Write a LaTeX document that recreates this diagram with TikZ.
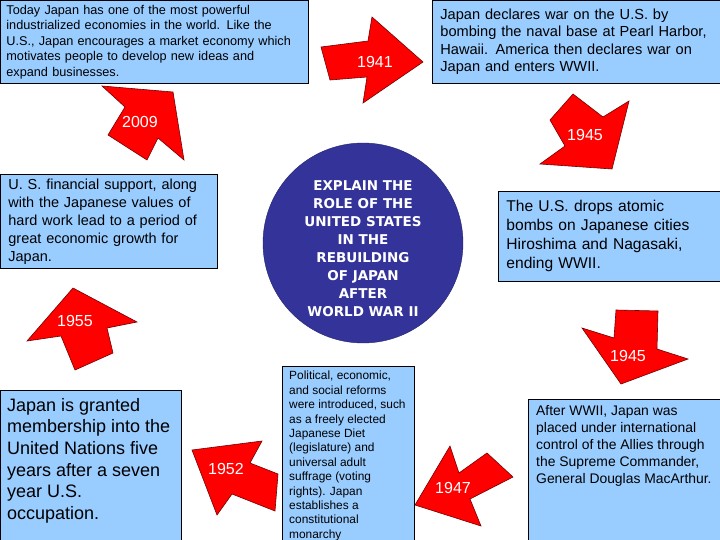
\documentclass[tikz,border=0pt]{standalone}
\usepackage{fontspec}
\setmainfont{Liberation Sans}
\newfontfamily\goalfont{DejaVu Sans}
\definecolor{boxblue}{RGB}{153,204,255}
\definecolor{goalblue}{RGB}{51,51,153}

\begin{document}
\begin{tikzpicture}[x=1pt,y=-1pt]
  \tikzset{infobox/.style = {draw=black,line width=0.8pt,fill=boxblue,anchor=north west,align=left}}
  \tikzset{infotext/.style = {anchor=north west,align=left,inner sep=0pt}}
  \tikzset{yeararrow/.style = {fill=red,draw=black!55!red,line width=0.6pt}}
  \tikzset{year/.style = {text=white,inner sep=0pt,font=\fontsize{16}{18}\selectfont}}

\clip (0,0) rectangle (720,540);
\fill[white] (0,0) rectangle (720,540);

% boxes
\node[infobox,minimum height=83pt,text width=296pt,inner xsep=6pt,
  font=\fontsize{12.7}{15.5}\selectfont] (today) at (0,0)
  {Today Japan has one of the most powerful\\
   industrialized economies in the world.  Like the\\
   U.S., Japan encourages a market economy which\\
   motivates people to develop new ideas and\\
   expand businesses.};
\node[infobox,minimum height=83pt,text width=280pt,inner xsep=8pt,
  font=\fontsize{14.6}{17.5}\selectfont] (pearl) at (432,0)
  {Japan declares war on the U.S. by\\
   bombing the naval base at Pearl Harbor,\\
   Hawaii.  America then declares war on\\
   Japan and enters WWII.};
\node[infobox,minimum height=94pt,text width=201pt,inner xsep=8pt,
  font=\fontsize{14.5}{18}\selectfont] (growth) at (0,174)
  {U. S. financial support, along\\
   with the Japanese values of\\
   hard work lead to a period of\\
   great economic growth for\\
   Japan.};
\node[infobox,minimum height=90pt,text width=214pt,inner xsep=8pt,
  font=\fontsize{15.6}{19}\selectfont] (bombs) at (498,191)
  {The U.S. drops atomic\\
   bombs on Japanese cities\\
   Hiroshima and Nagasaki,\\
   ending WWII.};

\node[infobox,minimum width=181pt,minimum height=150pt] (un) at (0,390) {};
\node[infotext,font=\fontsize{18}{21.6}\selectfont] (untext) at (7,398)
  {Japan is granted\\
   membership into the\\
   United Nations five\\
   years after a seven\\
   year U.S.\\
   occupation.};

\node[infobox,minimum width=132pt,minimum height=180pt] (reform) at (282,366) {};
\node[infotext,font=\fontsize{11.9}{14.4}\selectfont] (reformtext) at (289,371)
  {Political, economic,\\
   and social reforms\\
   were introduced, such\\
   as a freely elected\\
   Japanese Diet\\
   (legislature) and\\
   universal adult\\
   suffrage (voting\\
   rights).  Japan\\
   establishes a\\
   constitutional\\
   monarchy};

\node[infobox,minimum width=196pt,minimum height=145pt] (allies) at (528,399) {};
\node[infotext,font=\fontsize{13.9}{17}\selectfont] (alliestext) at (536,405)
  {After WWII, Japan was\\
   placed under international\\
   control of the Allies through\\
   the Supreme Commander,\\
   General Douglas MacArthur.};

% centre
\node[circle,fill=goalblue,draw=goalblue!70!black,minimum size=200pt,inner sep=0pt] (goal) at (363,243) {};
\node[text=white,align=center,inner sep=0pt,font=\goalfont\bfseries\fontsize{13.5}{18}\selectfont]
  (goaltext) at (363,249)
  {EXPLAIN THE\\ ROLE OF THE\\ UNITED STATES\\ IN THE\\ REBUILDING\\ OF JAPAN\\ AFTER\\ WORLD WAR II};

% year arrows
\filldraw[yeararrow] (321,47) -- (368,41) -- (372,17) -- (423,62) -- (363,103) -- (367,77) -- (330,80) -- cycle;
\node[year] (y1941) at (375,62) {1941};

\filldraw[yeararrow] (573,94) -- (603,117) -- (629,101) -- (612,169) -- (540,164) -- (565,146) -- (550,120) -- cycle;
\node[year] (y1945a) at (585,135) {1945};

\filldraw[yeararrow] (616,310) -- (658,311) -- (657,349) -- (688,359) -- (621,384) -- (582,328) -- (614,338) -- cycle;
\node[year] (y1945b) at (628,356) {1945};

\filldraw[yeararrow] (450,446) -- (459,473) -- (487,453) -- (513,477) -- (470,499) -- (481,526) -- (415,505) -- cycle;
\node[year] (y1947) at (453,488) {1947};

\filldraw[yeararrow] (192,450) -- (262,441) -- (250,463) -- (278,474) -- (275,511) -- (232,494) -- (217,515) -- cycle;
\node[year] (y1952) at (226,469) {1952};

\filldraw[yeararrow] (73,288) -- (137,322) -- (107,328) -- (113,353) -- (75,370) -- (61,336) -- (27,341) -- cycle;
\node[year] (y1955) at (75,321) {1955};

\filldraw[yeararrow] (102,86) -- (173,92) -- (184,160) -- (158,138) -- (147,160) -- (108,135) -- (125,107) -- cycle;
\node[year] (y2009) at (140,122) {2009};

\end{tikzpicture}
\end{document}
